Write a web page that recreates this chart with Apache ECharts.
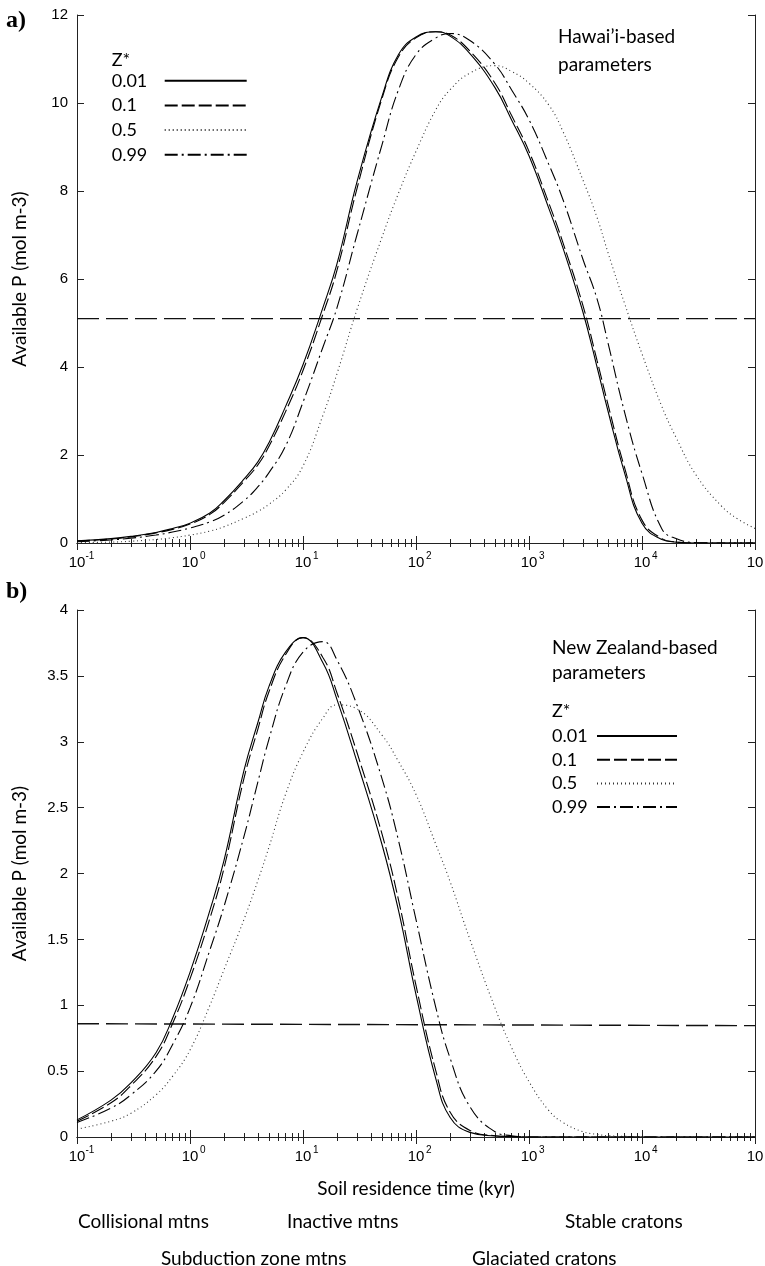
<!DOCTYPE html>
<html>
<head>
<meta charset="UTF-8">
<title></title>
<script type="text/javascript" src="https://cdn.jsdelivr.net/npm/echarts@6/dist/echarts.min.js"></script>
</head>
<body style="margin:0;background:#fff;">
<div id="main" style="width:765px;height:1266px;"></div>
<script type="text/javascript">
// soil residence time (kyr), shared by every curve
var times = [0.1, 0.2, 0.3, 0.5, 0.7, 1, 1.5, 2, 3, 4, 5, 7, 10, 15, 20, 30, 50, 70, 100, 150, 200, 300,
	500, 700, 1000, 1500, 2000, 3000, 4000, 5000, 7000, 10000, 15000, 20000, 30000, 50000, 70000, 100000];
var zNames = ['0.01', '0.1', '0.5', '0.99'];

// a) Hawai'i-based parameters, available P (mol m-3)
var hawaii001 = [0.05, 0.10, 0.15, 0.24, 0.33, 0.45, 0.68, 0.96, 1.45, 1.85, 2.28, 3.1, 4.05, 5.35, 6.35, 8.2, 10.15, 11.1, 11.5, 11.62, 11.52, 11.12,
	10.35, 9.62, 8.8, 7.6, 6.7, 5.25, 4.0, 3.0, 1.6, 0.45, 0.08, 0.02, 0, 0, 0, 0];
var hawaii01 = [0.045, 0.09, 0.14, 0.23, 0.31, 0.43, 0.65, 0.92, 1.4, 1.78, 2.2, 2.98, 3.92, 5.2, 6.2, 8.05, 10.1, 11.05, 11.48, 11.62, 11.55, 11.18,
	10.45, 9.72, 8.9, 7.72, 6.82, 5.4, 4.15, 3.15, 1.72, 0.52, 0.1, 0.025, 0, 0, 0, 0];
var hawaii05 = [0.01, 0.02, 0.04, 0.08, 0.12, 0.18, 0.27, 0.37, 0.56, 0.72, 0.88, 1.2, 1.75, 2.9, 3.85, 5.3, 6.95, 7.95, 8.9, 9.85, 10.3, 10.68,
	10.85, 10.72, 10.45, 9.95, 9.35, 8.25, 7.4, 6.6, 5.45, 4.3, 3.1, 2.4, 1.55, 0.85, 0.55, 0.33];
var hawaii099 = [0.03, 0.07, 0.11, 0.18, 0.25, 0.34, 0.48, 0.63, 0.96, 1.28, 1.6, 2.2, 3.2, 4.45, 5.35, 7.0, 9.05, 10.3, 11.1, 11.48, 11.58, 11.42,
	10.88, 10.3, 9.62, 8.6, 7.8, 6.45, 5.55, 4.55, 2.98, 1.58, 0.32, 0.1, 0.01, 0, 0, 0];

// b) New Zealand-based parameters
var nz001 = [0.13, 0.28, 0.41, 0.64, 0.9, 1.25, 1.72, 2.1, 2.78, 3.15, 3.42, 3.68, 3.79, 3.6, 3.32, 2.85, 2.22, 1.72, 1.08, 0.44, 0.15, 0.035,
	0.008, 0.003, 0, 0, 0, 0, 0, 0, 0, 0, 0, 0, 0, 0, 0, 0];
var nz01 = [0.12, 0.26, 0.39, 0.61, 0.86, 1.2, 1.66, 2.04, 2.72, 3.1, 3.38, 3.66, 3.79, 3.64, 3.37, 2.92, 2.3, 1.8, 1.15, 0.5, 0.19, 0.05,
	0.01, 0.004, 0, 0, 0, 0, 0, 0, 0, 0, 0, 0, 0, 0, 0, 0];
var nz05 = [0.06, 0.12, 0.18, 0.32, 0.46, 0.66, 1.0, 1.27, 1.65, 1.95, 2.2, 2.6, 2.92, 3.18, 3.28, 3.25, 3.05, 2.85, 2.6, 2.22, 1.94, 1.5,
	0.98, 0.68, 0.42, 0.2, 0.11, 0.04, 0.02, 0.01, 0.005, 0, 0, 0, 0, 0, 0, 0];
var nz099 = [0.11, 0.22, 0.32, 0.5, 0.7, 0.98, 1.42, 1.75, 2.28, 2.7, 3.02, 3.42, 3.68, 3.76, 3.62, 3.28, 2.72, 2.25, 1.65, 0.98, 0.6, 0.23,
	0.04, 0.01, 0, 0, 0, 0, 0, 0, 0, 0, 0, 0, 0, 0, 0, 0];

// horizontal dashed reference lines
var limitTimes = [0.1, 100000];
var hawaiiLimit = [5.1, 5.1];
var nzLimit = [0.86, 0.845];

// tick labels
var xExponents = ['-1', '0', '1', '2', '3', '4', '5'];
var hawaiiYTicks = ['0', '2', '4', '6', '8', '10', '12'];
var nzYTicks = ['0', '0.5', '1', '1.5', '2', '2.5', '3', '3.5', '4'];

var textFont = 'Lato, "Open Sans", sans-serif';
var tickFont = '"Liberation Sans", Arial, sans-serif';
var dashes = ['solid', [13, 4], [1, 3], [13, 4, 2, 4]];
var dashColors = ['#000', '#000', '#333', '#000'];

var myChart = echarts.init(document.getElementById('main'), null, {renderer: 'canvas'});

function pairs(xs, ys) {
	var out = [];
	for (var i = 0; i < xs.length; i++) out.push([xs[i], ys[i]]);
	return out;
}

function curve(k, values, ax) {
	return {
		type: 'line', name: zNames[k], xAxisIndex: ax, yAxisIndex: ax,
		data: pairs(times, values), symbol: 'none', smooth: 0.45, silent: true,
		itemStyle: {color: dashColors[k]},
		lineStyle: {color: dashColors[k], width: 1.1, type: dashes[k]}
	};
}

function limitLine(values, ax) {
	return {
		type: 'line', name: 'limit', xAxisIndex: ax, yAxisIndex: ax,
		data: pairs(limitTimes, values), symbol: 'none', silent: true,
		lineStyle: {color: '#111', width: 1.4, type: [22, 7]}
	};
}

function xAxis(grid, pos, withLabels, name) {
	return {
		type: 'log', logBase: 10, min: 0.1, max: 100000, splitNumber: 6, gridIndex: grid, position: pos,
		name: name || '', nameLocation: 'middle', nameGap: 42,
		nameTextStyle: {fontFamily: textFont, fontSize: 19, color: '#000'},
		axisLine: {show: true, lineStyle: {color: '#222', width: 1}},
		axisTick: {show: true, inside: true, length: 7, lineStyle: {color: '#222'}},
		minorTick: {show: true, splitNumber: 9, length: 4, lineStyle: {color: '#222'}},
		splitLine: {show: false},
		axisLabel: {
			show: withLabels, margin: 8, color: '#000',
			formatter: function (v) {
				var e = xExponents[Math.round(Math.log10(v)) + 1];
				return '{p|}{b|10}{s|' + e + '}';
			},
			rich: {
				p: {width: 9},
				b: {fontFamily: tickFont, fontSize: 15, lineHeight: 24, color: '#000'},
				s: {fontFamily: tickFont, fontSize: 10, lineHeight: 16, verticalAlign: 'top', width: 9, color: '#000'}
			}
		}
	};
}

function yAxis(grid, pos, withLabels, max, step, labels) {
	return {
		type: 'value', min: 0, max: max, interval: step, gridIndex: grid, position: pos,
		name: withLabels ? 'Available P (mol m-3)' : '', nameLocation: 'middle', nameGap: 48,
		nameTextStyle: {fontFamily: textFont, fontSize: 19, color: '#000'},
		axisLine: {show: true, lineStyle: {color: '#222', width: 1}},
		axisTick: {show: true, inside: true, length: 7, lineStyle: {color: '#222'}},
		splitLine: {show: false},
		axisLabel: {
			show: withLabels, margin: 9, color: '#000', fontFamily: tickFont, fontSize: 15,
			formatter: function (v) { return labels[Math.round(v / step)]; }
		}
	};
}

function legend(left, top, gap, textWidth, lineWidth) {
	return {
		data: zNames, orient: 'vertical', left: left, top: top, padding: 0,
		align: 'right', itemWidth: lineWidth, itemHeight: 14, itemGap: gap,
		selectedMode: false,
		itemStyle: {opacity: 0},
		formatter: function (n) { return '{a|' + n + '}'; },
		textStyle: {
			color: '#000',
			rich: {a: {fontFamily: textFont, fontSize: 18, lineHeight: 20, width: textWidth, align: 'left', color: '#000'}}
		}
	};
}

function label(text, left, top, size, lh) {
	return {
		text: text, left: left, top: top, padding: 0,
		textStyle: {fontFamily: textFont, fontSize: size, lineHeight: lh, fontWeight: 'normal', color: '#000'}
	};
}

var panelLabel = {fontFamily: '"Liberation Serif", "DejaVu Serif", serif', fontSize: 24, fontWeight: 'bold', color: '#000'};

option = {
	backgroundColor: '#fff',
	animation: false,
	title: [
		{text: 'a)', left: 6, top: 9, padding: 0, textStyle: panelLabel},
		{text: 'b)', left: 6, top: 580, padding: 0, textStyle: panelLabel},
		label('Z*', 111.7, 50, 18, 20),
		label('Z*', 552, 701, 18, 20),
		label('Hawai\u2019i-based\nparameters', 558, 22.7, 19, 28),
		label('New Zealand-based\nparameters', 552, 635.5, 19, 25),
		label('Collisional mtns', 78, 1211, 19, 22),
		label('Inactive mtns', 287, 1211, 19, 22),
		label('Stable cratons', 565, 1211, 19, 22),
		label('Subduction zone mtns', 161, 1248, 19, 22),
		label('Glaciated cratons', 472, 1248, 19, 22)
	],
	legend: [
		legend(111.7, 71.7, 6.7, 48, 82),
		legend(552, 727, 5.7, 40, 80)
	],
	grid: [
		{left: 77, right: 10, top: 15, height: 528, containLabel: false, outerBoundsMode: 'none'},
		{left: 77, right: 10, top: 610, height: 527, containLabel: false, outerBoundsMode: 'none'}
	],
	xAxis: [
		xAxis(0, 'bottom', true),
		xAxis(0, 'top', false),
		xAxis(1, 'bottom', true, 'Soil residence time (kyr)'),
		xAxis(1, 'top', false)
	],
	yAxis: [
		yAxis(0, 'left', true, 12, 2, hawaiiYTicks),
		yAxis(0, 'right', false, 12, 2, hawaiiYTicks),
		yAxis(1, 'left', true, 4, 0.5, nzYTicks),
		yAxis(1, 'right', false, 4, 0.5, nzYTicks)
	],
	series: [
		limitLine(hawaiiLimit, 0),
		curve(0, hawaii001, 0),
		curve(1, hawaii01, 0),
		curve(2, hawaii05, 0),
		curve(3, hawaii099, 0),
		limitLine(nzLimit, 2),
		curve(0, nz001, 2),
		curve(1, nz01, 2),
		curve(2, nz05, 2),
		curve(3, nz099, 2)
	]
};
// the bottom-panel series use axis pair 2 (x) / 2 (y)
myChart.setOption(option);
</script>
</body>
</html>
